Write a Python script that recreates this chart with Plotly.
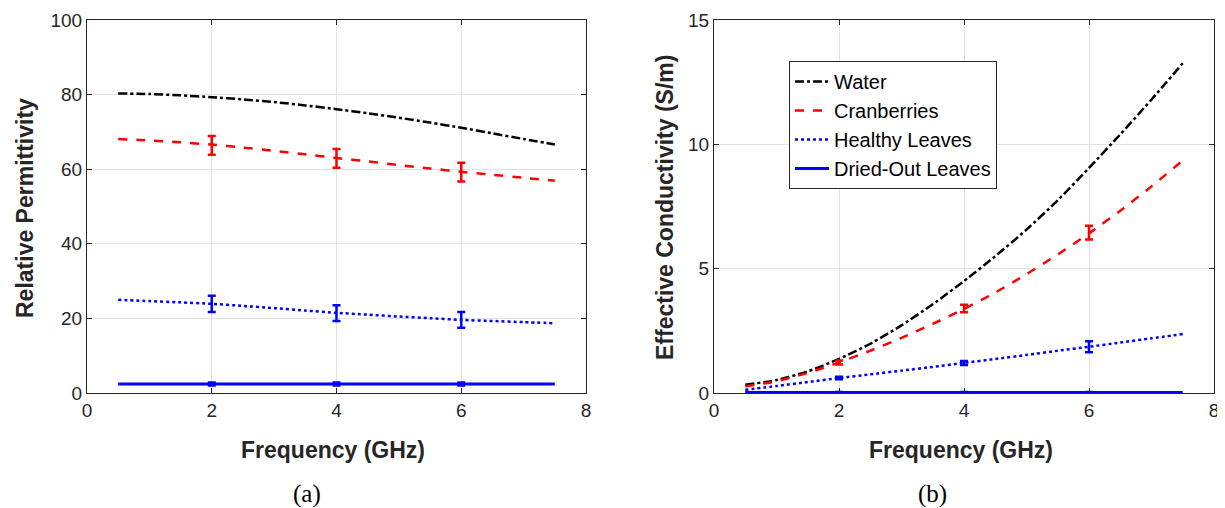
import plotly.graph_objects as go

# ---------------- data ----------------
freq = [0.5, 1.0, 1.5, 2.0, 2.5, 3.0, 3.5, 4.0, 4.5, 5.0, 5.5, 6.0, 6.5, 7.0, 7.5]

# (a) relative permittivity
perm_water = [80.3, 80.15, 79.8, 79.3, 78.7, 78.0, 77.1, 76.1, 75.0, 73.8, 72.5, 71.1, 69.6, 68.1, 66.6]
perm_cran = [68.1, 67.7, 67.2, 66.6, 65.8, 64.9, 64.0, 63.0, 62.1, 61.1, 60.2, 59.3, 58.5, 57.7, 56.9]
perm_healthy = [25.0, 24.65, 24.3, 23.9, 23.35, 22.75, 22.1, 21.5, 21.0, 20.5, 20.05, 19.6, 19.3, 19.0, 18.7]
perm_dried = [2.4] * 15

# (b) effective conductivity (S/m)
cond_water = [0.33, 0.52, 0.87, 1.37, 1.98, 2.72, 3.57, 4.5, 5.5, 6.57, 7.75, 9.05, 10.4, 11.8, 13.26]
cond_cran = [0.27, 0.47, 0.81, 1.23, 1.7, 2.22, 2.78, 3.38, 4.04, 4.78, 5.57, 6.42, 7.33, 8.31, 9.35]
cond_healthy = [0.13, 0.28, 0.44, 0.60, 0.75, 0.90, 1.05, 1.21, 1.37, 1.53, 1.70, 1.86, 2.03, 2.20, 2.37]
cond_dried = [0.02] * 15

# measured points with error bars
meas_freq = [2, 4, 6]
perm_cran_meas = [66.4, 62.9, 59.2]
perm_cran_err = [2.5, 2.5, 2.5]
perm_healthy_meas = [23.9, 21.4, 19.6]
perm_healthy_err = [2.2, 2.1, 2.1]
perm_dried_meas = [2.4, 2.4, 2.4]
perm_dried_err = [0.4, 0.4, 0.4]
cond_cran_meas = [1.23, 3.40, 6.45]
cond_cran_err = [0.08, 0.15, 0.28]
cond_healthy_meas = [0.60, 1.21, 1.86]
cond_healthy_err = [0.05, 0.08, 0.22]
cond_dried_meas = [0.02, 0.02, 0.02]
cond_dried_err = [0.02, 0.02, 0.02]

names = ["Water", "Cranberries", "Healthy Leaves", "Dried-Out Leaves"]
x_ticks = [0, 2, 4, 6, 8]
perm_ticks = [0, 20, 40, 60, 80, 100]
cond_ticks = [0, 5, 10, 15]

# ---------------- figure ----------------
W, H = 1225, 508
def px(x):
    return x / W
def py(y):
    return 1 - y / H

BLUE = "#0000ff"
RED = "#ff0000"
BLACK = "#000000"
AX = "#262626"
styles = [(BLACK, "dashdot", 2.5), (RED, "dash", 2.5), (BLUE, "dot", 2.5), (BLUE, "solid", 3)]

fig = go.Figure()

panels = [
    ("x", "y", [perm_water, perm_cran, perm_healthy, perm_dried],
     [(perm_cran_meas, perm_cran_err, RED), (perm_healthy_meas, perm_healthy_err, BLUE),
      (perm_dried_meas, perm_dried_err, BLUE)], False),
    ("x2", "y2", [cond_water, cond_cran, cond_healthy, cond_dried],
     [(cond_cran_meas, cond_cran_err, RED), (cond_healthy_meas, cond_healthy_err, BLUE),
      (cond_dried_meas, cond_dried_err, BLUE)], True),
]

for xa, ya, series, meas, showleg in panels:
    for name, vals, (col, dash, w) in zip(names, series, styles):
        fig.add_trace(go.Scatter(
            x=freq, y=vals, mode="lines", name=name, xaxis=xa, yaxis=ya,
            line=dict(color=col, dash=dash, width=w, shape="spline", smoothing=0.6),
            showlegend=showleg))
    for vals, err, col in meas:
        fig.add_trace(go.Scatter(
            x=meas_freq, y=vals, mode="markers", xaxis=xa, yaxis=ya,
            marker=dict(size=1, color=col, opacity=0),
            error_y=dict(type="data", array=err, visible=True, color=col,
                         thickness=2.5, width=4),
            showlegend=False, hoverinfo="skip"))

axis_common = dict(
    showline=True, linecolor=AX, linewidth=1, mirror="ticks",
    ticks="inside", ticklen=5, tickcolor=AX, tickwidth=1,
    showgrid=True, gridcolor="#e3e3e3", gridwidth=1, zeroline=False,
    ticklabeloverflow="allow", automargin=False,
    tickfont=dict(family="Liberation Sans, Arial, sans-serif", size=19, color=AX),
)

TOP, BOT = 12, 385

fig.update_layout(
    width=W, height=H,
    margin=dict(l=0, r=0, t=0, b=0, autoexpand=False),
    paper_bgcolor="white", plot_bgcolor="white",
    xaxis=dict(domain=[px(79), px(578)], range=[0, 8], tickvals=x_ticks, anchor="y", **axis_common),
    yaxis=dict(domain=[py(BOT), py(TOP)], range=[0, 100], tickvals=perm_ticks, anchor="x", **axis_common),
    xaxis2=dict(domain=[px(706), px(1206)], range=[0, 8], tickvals=x_ticks, anchor="y2", **axis_common),
    yaxis2=dict(domain=[py(BOT), py(TOP)], range=[0, 15], tickvals=cond_ticks, anchor="x2", **axis_common),
    legend=dict(
        x=px(781), y=py(53), xanchor="left", yanchor="top",
        bgcolor="white", bordercolor=AX, borderwidth=1,
        font=dict(family="Liberation Sans, Arial, sans-serif", size=20, color=BLACK),
        tracegroupgap=4, itemwidth=34,
    ),
    showlegend=True,
)

title_font = dict(family="Liberation Sans, Arial, sans-serif", size=23, color=AX, weight="bold")
ann = [
    dict(text="Frequency (GHz)", x=px(325), y=py(442), font=title_font),
    dict(text="Frequency (GHz)", x=px(953), y=py(442), font=title_font),
    dict(text="Relative Permittivity", x=px(17), y=py(200), textangle=-90, font=title_font),
    dict(text="Effective Conductivity (S/m)", x=px(657), y=py(200), textangle=-90, font=title_font),
    dict(text="(a)", x=px(299), y=py(486),
         font=dict(family="Liberation Serif, DejaVu Serif, serif", size=25, color=BLACK)),
    dict(text="(b)", x=px(925), y=py(486),
         font=dict(family="Liberation Serif, DejaVu Serif, serif", size=25, color=BLACK)),
]
for a in ann:
    fig.add_annotation(xref="paper", yref="paper", xanchor="center", yanchor="middle",
                       showarrow=False, **a)

fig.write_html("out.html")
